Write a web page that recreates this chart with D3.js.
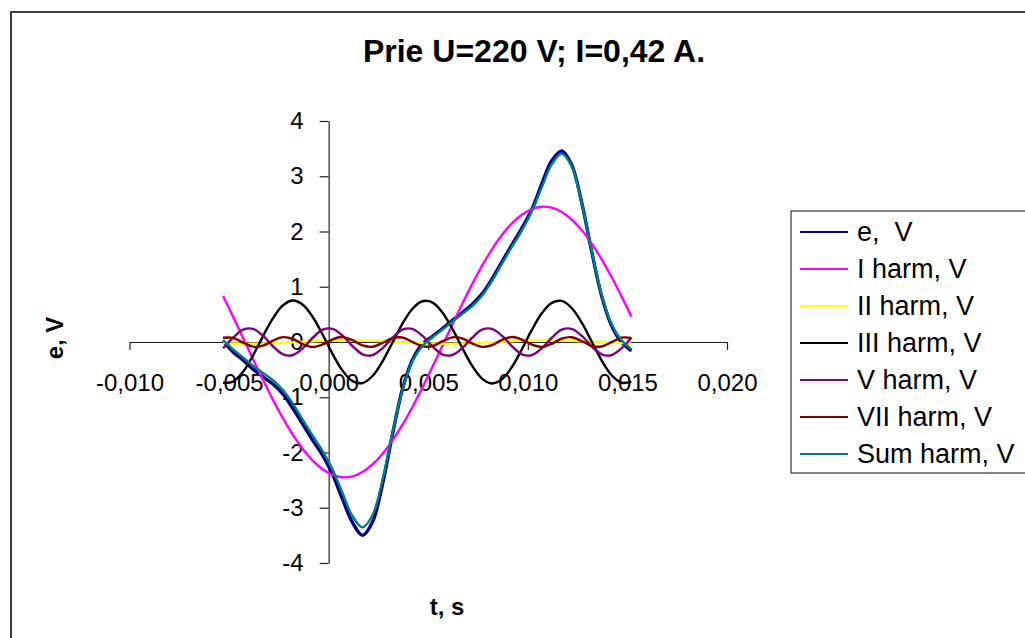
<!DOCTYPE html>
<html>
<head>
<meta charset="utf-8">
<script src="https://cdn.jsdelivr.net/npm/d3@7"></script>
<style>
body{margin:0;background:#fff;}
text{font-family:"Liberation Sans",Arial,sans-serif;}
</style>
</head>
<body>
<div id="chart"></div>
<script>

// time, s
var t_s = [-0.0053,-0.0048,-0.0043,-0.0038,-0.0033,-0.0028,-0.0023,-0.0018,-0.0013,-0.0008,
	-0.0003,0.0002,0.0007,0.0012,0.0017,0.0022,0.0027,0.0032,0.0037,0.0042,
	0.0047,0.0052,0.0057,0.0062,0.0067,0.0072,0.0077,0.0082,0.0087,0.0092,
	0.0097,0.0102,0.0107,0.0112,0.0117,0.0122,0.0127,0.0132,0.0137,0.0142,
	0.0147,0.0152];

var e_v = [0.02,-0.18,-0.33,-0.49,-0.63,-0.76,-0.94,-1.20,-1.49,-1.78,
	-2.05,-2.40,-2.85,-3.27,-3.50,-3.26,-2.58,-1.68,-0.86,-0.33,
	-0.04,0.10,0.24,0.39,0.53,0.68,0.87,1.14,1.45,1.76,
	2.06,2.40,2.86,3.28,3.46,3.21,2.53,1.65,0.84,0.30,
	0.00,-0.16];

var harm1 = [0.830,0.459,0.077,-0.307,-0.684,-1.043,-1.377,-1.677,-1.936,-2.147,
	-2.305,-2.407,-2.449,-2.431,-2.353,-2.217,-2.026,-1.786,-1.502,-1.180,
	-0.830,-0.459,-0.077,0.307,0.684,1.043,1.377,1.677,1.936,2.147,
	2.305,2.407,2.449,2.431,2.353,2.217,2.026,1.786,1.502,1.180,
	0.830,0.459];

var harm2 = [-0.021,-0.026,-0.029,-0.030,-0.027,-0.022,-0.014,-0.006,0.004,0.013,
	0.021,0.026,0.029,0.030,0.027,0.022,0.014,0.006,-0.004,-0.013,
	-0.021,-0.026,-0.029,-0.030,-0.027,-0.022,-0.014,-0.006,0.004,0.013,
	0.021,0.026,0.029,0.030,0.027,0.022,0.014,0.006,-0.004,-0.013,
	-0.021,-0.026];

var harm3 = [-0.738,-0.718,-0.540,-0.245,0.103,0.429,0.662,0.750,0.675,0.452,
	0.131,-0.218,-0.520,-0.709,-0.743,-0.615,-0.353,-0.014,0.328,0.598,
	0.738,0.718,0.540,0.245,-0.103,-0.429,-0.662,-0.750,-0.675,-0.452,
	-0.131,0.218,0.520,0.709,0.743,0.615,0.353,0.014,-0.328,-0.598,
	-0.738,-0.718];

var harm5 = [-0.114,0.077,0.223,0.238,0.114,-0.077,-0.223,-0.238,-0.114,0.077,
	0.223,0.238,0.114,-0.077,-0.223,-0.238,-0.114,0.077,0.223,0.238,
	0.114,-0.077,-0.223,-0.238,-0.114,0.077,0.223,0.238,0.114,-0.077,
	-0.223,-0.238,-0.114,0.077,0.223,0.238,0.114,-0.077,-0.223,-0.238,
	-0.114,0.077];

var harm7 = [0.078,0.075,-0.010,-0.084,-0.067,0.024,0.088,0.056,-0.037,-0.090,
	-0.045,0.049,0.089,0.032,-0.061,-0.087,-0.018,0.070,0.082,0.004,
	-0.078,-0.075,0.010,0.084,0.067,-0.024,-0.088,-0.056,0.037,0.090,
	0.045,-0.049,-0.089,-0.032,0.061,0.087,0.018,-0.070,-0.082,-0.004,
	0.078,0.075];

var harm_sum = [0.035,-0.133,-0.279,-0.428,-0.561,-0.689,-0.864,-1.115,-1.408,-1.695,
	-1.975,-2.312,-2.737,-3.155,-3.353,-3.135,-2.497,-1.647,-0.873,-0.353,
	-0.077,0.081,0.221,0.368,0.507,0.645,0.836,1.103,1.416,1.721,
	2.017,2.364,2.795,3.215,3.407,3.179,2.525,1.659,0.865,0.327,
	0.035,-0.133];

var series_names = ['e,  V','I harm, V','II harm, V','III harm, V','V harm, V','VII harm, V','Sum harm, V'];
var series_colors = ['#000080','#ff00ff','#ffff00','#000000','#800080','#800000','#008080'];
var series_values = [e_v, harm1, harm2, harm3, harm5, harm7, harm_sum];

var x_ticks = [-0.010,-0.005,0.000,0.005,0.010,0.015,0.020];
var y_ticks = [-4,-3,-2,-1,0,1,2,3,4];

var width = 1025, height = 638;

var svg = d3.select('#chart').append('svg')
	.attr('width', width)
	.attr('height', height);

// chart area frame
svg.append('rect')
	.attr('x', 11).attr('y', 12)
	.attr('width', 1030).attr('height', 640)
	.attr('fill', 'white')
	.attr('stroke', '#404040')
	.attr('stroke-width', 2);

var x = d3.scaleLinear().domain([-0.010, 0.020]).range([129.5, 727]);
var y = d3.scaleLinear().domain([-4, 4]).range([563, 121]);

var loc = d3.formatLocale({decimal: ',', thousands: ' ', grouping: [3], currency: ['', ''], minus: '-'});

var xAxis = svg.append('g')
	.attr('transform', 'translate(0,' + y(0) + ')')
	.call(d3.axisBottom(x).tickValues(x_ticks).tickFormat(loc.format('.3f')).tickSize(8).tickSizeOuter(0).tickPadding(24));

var yAxis = svg.append('g')
	.attr('transform', 'translate(' + x(0) + ',0)')
	.call(d3.axisLeft(y).tickValues(y_ticks).tickFormat(loc.format('d')).tickSize(9).tickSizeOuter(0).tickPadding(16));

svg.selectAll('.domain, .tick line').attr('stroke', '#222').attr('stroke-width', 1.2);
svg.selectAll('.tick text')
	.attr('fill', 'black')
	.style('font-family', '"Liberation Sans", Arial, sans-serif')
	.style('font-size', '24px');

// series lines
var line = d3.line()
	.x(function(d){ return x(d[0]); })
	.y(function(d){ return y(d[1]); })
	.curve(d3.curveCatmullRom);

series_values.forEach(function(vals, i){
	var pts = t_s.map(function(t, j){ return [t, vals[j]]; });
	svg.append('path')
		.datum(pts)
		.attr('d', line)
		.attr('fill', 'none')
		.attr('stroke', series_colors[i])
		.attr('stroke-width', i == 0 ? 3.4 : 2.4);
});

// title and axis titles
svg.append('text')
	.attr('x', 534).attr('y', 62)
	.attr('text-anchor', 'middle')
	.style('font-size', '32px').style('font-weight', 'bold')
	.text('Prie U=220 V; I=0,42 A.');

svg.append('text')
	.attr('x', 447).attr('y', 615)
	.attr('text-anchor', 'middle')
	.style('font-size', '24px').style('font-weight', 'bold')
	.text('t, s');

svg.append('text')
	.attr('transform', 'translate(63,338) rotate(-90)')
	.attr('text-anchor', 'middle')
	.style('font-size', '24px').style('font-weight', 'bold')
	.text('e, V');

// legend
var legend = svg.append('g');
legend.append('rect')
	.attr('x', 791).attr('y', 211)
	.attr('width', 260).attr('height', 262)
	.attr('fill', 'white')
	.attr('stroke', '#333')
	.attr('stroke-width', 1.2);

var rows = legend.selectAll('g.row')
	.data(series_names)
	.enter()
	.append('g')
	.attr('class', 'row')
	.attr('transform', function(d, i){ return 'translate(0,' + (232 + 37*i) + ')'; });

rows.append('line')
	.attr('x1', 800).attr('x2', 848)
	.attr('stroke', function(d, i){ return series_colors[i]; })
	.attr('stroke-width', 2);

rows.append('text')
	.attr('x', 857).attr('dy', '0.35em')
	.style('font-size', '27px')
	.style('white-space', 'pre')
	.text(function(d){ return d; });

</script>
</body>
</html>
